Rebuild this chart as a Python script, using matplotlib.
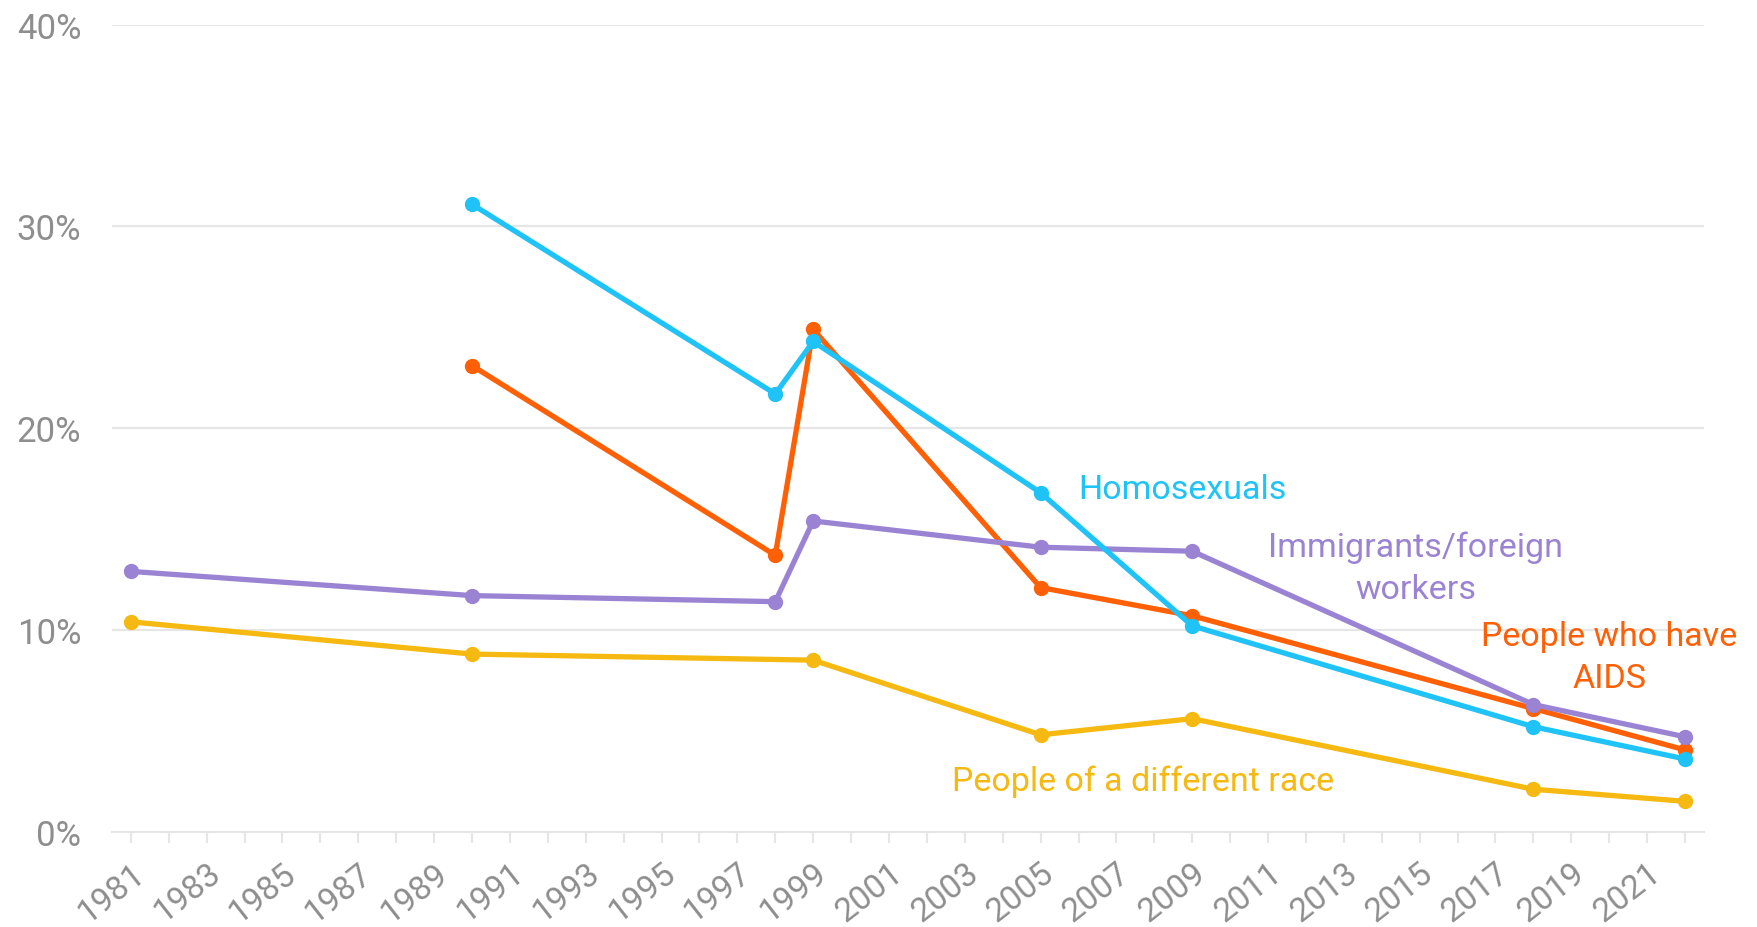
import numpy as np
import matplotlib.pyplot as plt

# Werte (Prozent)
years_homo = [1990, 1998, 1999, 2005, 2009, 2018, 2022]
homo = [31.1, 21.7, 24.3, 16.8, 10.2, 5.2, 3.6]

years_aids = [1990, 1998, 1999, 2005, 2009, 2018, 2022]
aids = [23.1, 13.7, 24.9, 12.1, 10.7, 6.1, 4.05]

years_immi = [1981, 1990, 1998, 1999, 2005, 2009, 2018, 2022]
immi = [12.9, 11.7, 11.4, 15.4, 14.1, 13.9, 6.3, 4.7]

years_race = [1981, 1990, 1999, 2005, 2009, 2018, 2022]
race = [10.4, 8.8, 8.5, 4.8, 5.6, 2.1, 1.5]

y_ticks = [0, 10, 20, 30, 40]
x_labels = list(range(1981, 2022, 2))

c_homo = '#1FC3F7'
c_aids = '#FF5F05'
c_immi = '#9B83D3'
c_race = '#F5B912'
c_grid = '#E6E6E6'
c_text = '#8E8E8E'

plt.rcParams['font.family'] = ['Roboto', 'DejaVu Sans']

fig = plt.figure(figsize=(17.57, 9.28), dpi=100)
ax = fig.add_axes([0.0637, 0.1028, 0.9061, 0.8694])

lw = 3.8
ms = 10
ax.plot(years_race, race, '-o', color=c_race, lw=lw, ms=ms, zorder=3)
ax.plot(years_aids, aids, '-o', color=c_aids, lw=lw, ms=ms, zorder=4)
ax.plot(years_immi, immi, '-o', color=c_immi, lw=lw, ms=ms, zorder=5)
ax.plot(years_homo, homo, '-o', color=c_homo, lw=lw, ms=ms, zorder=6)

ax.set_xlim(1980.5, 2022.5)
ax.set_ylim(0, 40)

ax.set_yticks(y_ticks)
ax.set_yticklabels([f'{v}%' for v in y_ticks])
ax.yaxis.grid(True, color=c_grid, lw=1.5, zorder=0)
ax.set_axisbelow(True)

ax.set_xticks(range(1981, 2023))
ax.set_xticklabels([str(y) if y in x_labels else '' for y in range(1981, 2023)],
                   rotation=38, ha='right', rotation_mode='anchor')

for s in ['top', 'right', 'left']:
    ax.spines[s].set_visible(False)
ax.spines['bottom'].set_color(c_grid)
ax.spines['bottom'].set_linewidth(1.5)

ax.tick_params(axis='y', length=0, pad=22, labelsize=25, labelcolor=c_text)
ax.tick_params(axis='x', length=8, width=1.5, color=c_grid, pad=10,
               labelsize=24, labelcolor=c_text)

fs = 24.5
ax.text(2006.0, 17.0, 'Homosexuals', color=c_homo, fontsize=fs,
        ha='left', va='center')
ax.text(2014.9, 13.1, 'Immigrants/foreign\nworkers', color=c_immi, fontsize=fs,
        ha='center', va='center', linespacing=1.4, multialignment='center')
ax.text(2020.0, 8.64, 'People who have\nAIDS', color=c_aids, fontsize=fs,
        ha='center', va='center', linespacing=1.4, multialignment='center',
        clip_on=False)
ax.text(2007.7, 2.5, 'People of a different race', color=c_race, fontsize=fs,
        ha='center', va='center')

fig.savefig('out.png', dpi=100)
